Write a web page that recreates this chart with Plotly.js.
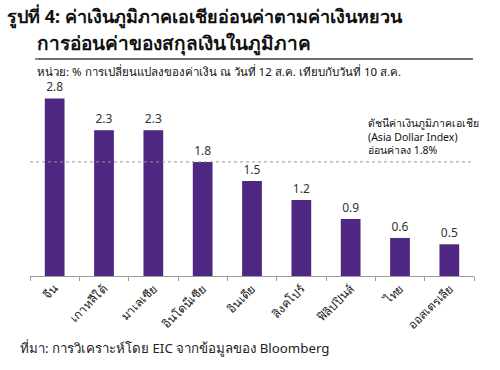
<!DOCTYPE html>
<html>
<head>
<meta charset="utf-8">
<script src="https://cdn.plot.ly/plotly-3.0.1.min.js"></script>
<style>body{margin:0;background:#fff;} #chart{width:500px;height:370px;}</style>
</head>
<body>
<div id="chart"></div>
<script>
const categories = ["จีน", "เกาหลีใต้", "มาเลเซีย", "อินโดนีเซีย", "อินเดีย", "สิงคโปร์", "ฟิลิปปินส์", "ไทย", "ออสเตรเลีย"];
const values = [2.8, 2.3, 2.3, 1.8, 1.5, 1.2, 0.9, 0.6, 0.5];
const indexValue = 1.8;
const valueLabels = ["2.8", "2.3", "2.3", "1.8", "1.5", "1.2", "0.9", "0.6", "0.5"];

const font = "Noto Sans, Tahoma, DejaVu Sans, sans-serif";

// plot area in pixels
const L = 30, R = 474, T = 10, B = 276;
const PW = R - L, PH = B - T;
const SCALE = 63.4; // px per unit
const toX = v => (v - L) / PW;
const toY = v => (B - v) / PH;
const ruleY = (B - 59) / SCALE;

const trace = {
  type: "bar",
  x: categories,
  y: values,
  marker: {color: "#4d2782"},
  text: valueLabels,
  textposition: "outside",
  textfont: {family: font, size: 12, color: "#333"},
  cliponaxis: false,
  hoverinfo: "skip"
};

const layout = {
  width: 500, height: 370,
  margin: {l: L, r: 500 - R, t: T, b: 370 - B},
  paper_bgcolor: "#fff", plot_bgcolor: "#fff",
  bargap: 0.6,
  showlegend: false,
  xaxis: {
    type: "category",
    showline: true, linecolor: "#999", linewidth: 1,
    ticks: "outside", tickson: "boundaries", ticklen: 4, tickcolor: "#999",
    tickangle: -45,
    tickfont: {family: font, size: 12, color: "#222"},
    showgrid: false, zeroline: false
  },
  yaxis: {range: [0, PH / SCALE], visible: false, showgrid: false, zeroline: false},
  shapes: [
    {type: "line", xref: "paper", x0: 0, x1: 1, yref: "y", y0: indexValue, y1: indexValue,
     line: {color: "#999", width: 1, dash: "dot"}},
    {type: "line", xref: "paper", x0: toX(35), x1: toX(473), yref: "y", y0: ruleY, y1: ruleY,
     line: {color: "#666", width: 1.5}}
  ],
  annotations: [
    {xref: "paper", yref: "paper", x: toX(473), y: toY(59), text: " ",
     showarrow: true, arrowhead: 0, arrowwidth: 1.5, arrowcolor: "#666",
     axref: "pixel", ayref: "pixel", ax: -438, ay: 0, standoff: 0, startstandoff: 0},
    {xref: "paper", yref: "paper", x: toX(5), y: toY(17), xanchor: "left", yanchor: "middle",
     text: "<b>รูปที่ 4: ค่าเงินภูมิภาคเอเชียอ่อนค่าตามค่าเงินหยวน</b>", showarrow: false,
     font: {family: font, size: 18, color: "#111"}},
    {xref: "paper", yref: "paper", x: toX(35), y: toY(43), xanchor: "left", yanchor: "middle",
     text: "<b>การอ่อนค่าของสกุลเงินในภูมิภาค</b>", showarrow: false,
     font: {family: font, size: 19, color: "#111"}},
    {xref: "paper", yref: "paper", x: toX(35), y: toY(71), xanchor: "left", yanchor: "middle",
     text: "หน่วย: % การเปลี่ยนแปลงของค่าเงิน ณ วันที่ 12 ส.ค. เทียบกับวันที่ 10 ส.ค.", showarrow: false,
     font: {family: font, size: 11.5, color: "#111"}},
    {xref: "paper", yref: "paper", x: toX(366), y: toY(136), xanchor: "left", yanchor: "middle",
     align: "left",
     text: "ดัชนีค่าเงินภูมิภาคเอเชีย<br>(Asia Dollar Index)<br>อ่อนค่าลง 1.8%", showarrow: false,
     font: {family: font, size: 10.5, color: "#111"}},
    {xref: "paper", yref: "paper", x: toX(18), y: toY(348), xanchor: "left", yanchor: "middle",
     text: "ที่มา: การวิเคราะห์โดย EIC จากข้อมูลของ Bloomberg", showarrow: false,
     font: {family: font, size: 13.3, color: "#222"}}
  ]
};

Plotly.newPlot("chart", [trace], layout, {displayModeBar: false, staticPlot: true});
</script>
</body>
</html>
